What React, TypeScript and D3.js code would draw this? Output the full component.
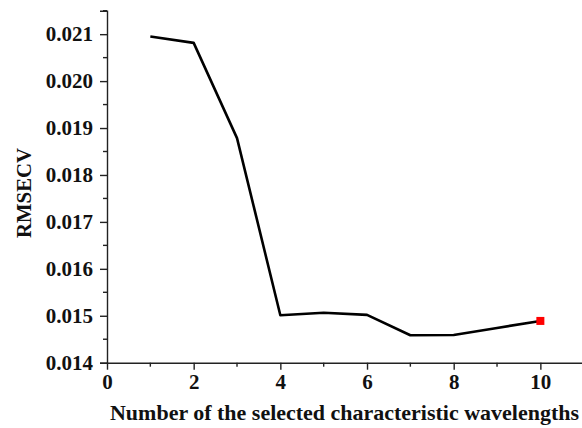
import { useEffect, useRef } from "react";
import * as d3 from "d3";

// number of selected wavelengths vs RMSECV
const wavelengthCounts = [1, 2, 3, 4, 5, 6, 7, 8, 9, 10];
const rmsecvValues = [
    0.02095, 0.020815, 0.018785, 0.01501, 0.015065, 0.01502,
    0.014585, 0.01459, 0.01474, 0.01489,
];
const xTicks = [0, 2, 4, 6, 8, 10];
const yTicks = [0.014, 0.015, 0.016, 0.017, 0.018, 0.019, 0.02, 0.021];
const bestCount = 10;

const FONT = "'Liberation Serif', 'DejaVu Serif', serif";

export default function App() {
    const svgRef = useRef<SVGSVGElement | null>(null);

    useEffect(() => {
        const width = 582;
        const height = 428;
        const svg = d3.select(svgRef.current);
        svg.selectAll("*").remove();
        svg.attr("width", width).attr("height", height);

        const x = d3.scaleLinear().domain([0, 11]).range([107, 583.7]);
        const y = d3.scaleLinear().domain([0.014, 0.0215]).range([362.7, 10.7]);

        const font = (sel: any, size: number) =>
            sel
                .attr("font-family", FONT)
                .attr("font-weight", "bold")
                .attr("font-size", size)
                .attr("fill", "#111");

        // y axis
        const yAxis = svg
            .append("g")
            .attr("transform", `translate(${x(0)},0)`)
            .call(
                d3
                    .axisLeft(y)
                    .tickValues(yTicks)
                    .tickSize(7)
                    .tickPadding(7)
                    .tickFormat(d3.format(".3f"))
            );
        yAxis.select(".domain").attr("stroke-width", 1.4).attr("stroke", "#222");
        yAxis.selectAll(".tick line").attr("stroke-width", 1.4).attr("stroke", "#222");
        font(yAxis.selectAll("text"), 21);
        yAxis.attr("font-family", null).attr("font-size", null);

        const yMinor = d3.range(0.0145, 0.0216, 0.001);
        svg.append("g")
            .selectAll("line")
            .data(yMinor)
            .join("line")
            .attr("x1", x(0) - 4)
            .attr("x2", x(0))
            .attr("y1", (d) => y(d))
            .attr("y2", (d) => y(d))
            .attr("stroke", "#222")
            .attr("stroke-width", 1.4);

        // x axis
        const xAxis = svg
            .append("g")
            .attr("transform", `translate(0,${y(0.014)})`)
            .call(
                d3
                    .axisBottom(x)
                    .tickValues(xTicks)
                    .tickSize(7)
                    .tickPadding(4)
                    .tickSizeOuter(0)
            );
        xAxis.select(".domain").attr("stroke-width", 1.4).attr("stroke", "#222");
        xAxis.selectAll(".tick line").attr("stroke-width", 1.4).attr("stroke", "#222");
        font(xAxis.selectAll("text"), 21);
        xAxis.attr("font-family", null).attr("font-size", null);

        const xMinor = [1, 3, 5, 7, 9];
        svg.append("g")
            .selectAll("line")
            .data(xMinor)
            .join("line")
            .attr("x1", (d) => x(d))
            .attr("x2", (d) => x(d))
            .attr("y1", y(0.014))
            .attr("y2", y(0.014) + 4)
            .attr("stroke", "#222")
            .attr("stroke-width", 1.4);

        // line
        const points = wavelengthCounts.map((c, i) => [c, rmsecvValues[i]] as [number, number]);
        svg.append("path")
            .datum(points)
            .attr("fill", "none")
            .attr("stroke", "#000")
            .attr("stroke-width", 2.6)
            .attr("stroke-linejoin", "round")
            .attr(
                "d",
                d3
                    .line<[number, number]>()
                    .x((d) => x(d[0]))
                    .y((d) => y(d[1]))
            );

        // best point
        const best = points.find((p) => p[0] === bestCount)!;
        svg.append("rect")
            .attr("x", x(best[0]) - 4)
            .attr("y", y(best[1]) - 4)
            .attr("width", 8)
            .attr("height", 8)
            .attr("fill", "#ff0000");

        // titles
        font(svg.append("text"), 21)
            .attr("x", 110)
            .attr("y", 420)
            .attr("textLength", 469)
            .attr("lengthAdjust", "spacingAndGlyphs")
            .text("Number of the selected characteristic wavelengths");

        font(svg.append("text"), 21)
            .attr("transform", "translate(31,193) rotate(-90)")
            .attr("text-anchor", "middle")
            .attr("textLength", 90)
            .attr("lengthAdjust", "spacingAndGlyphs")
            .text("RMSECV");
    }, []);

    return (
        <svg
            ref={svgRef}
            style={{ position: "absolute", left: 0, top: 0, background: "#fff" }}
        />
    );
}
